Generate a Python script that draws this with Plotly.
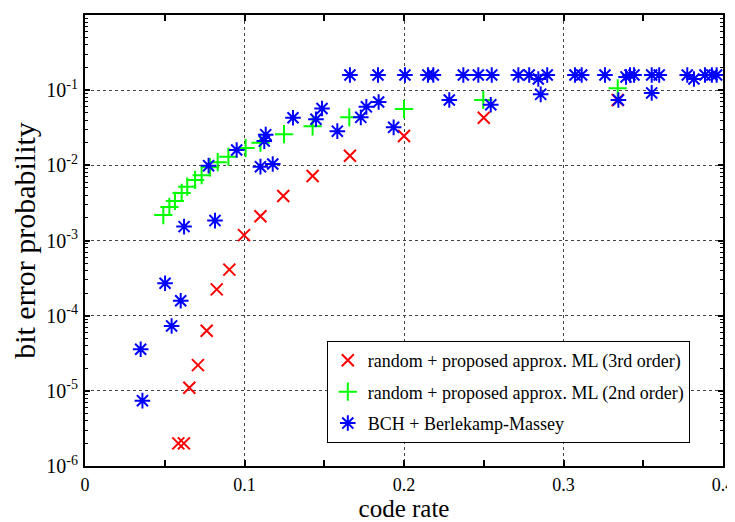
import plotly.graph_objects as go

# --- data ---
ml3_rate = [0.0585, 0.0620, 0.0654, 0.0708, 0.0763, 0.0826, 0.0905, 0.0997, 0.1100,
            0.1243, 0.1427, 0.1661, 0.2000, 0.2500, 0.3340]
ml3_ber = [2.0e-6, 2.0e-6, 1.1e-5, 2.2e-5, 6.3e-5, 2.24e-4, 4.1e-4, 1.18e-3, 2.1e-3,
           3.9e-3, 7.2e-3, 1.34e-2, 2.46e-2, 4.3e-2, 7.4e-2]

ml2_rate = [0.0491, 0.0529, 0.0564, 0.0606, 0.0641, 0.0690, 0.0731, 0.0784, 0.0832,
            0.0899, 0.1007, 0.1100, 0.1248, 0.1427, 0.1657, 0.2000, 0.2497, 0.3340]
ml2_ber = [2.18e-3, 2.8e-3, 3.36e-3, 4.3e-3, 5.2e-3, 6.4e-3, 7.4e-3, 9.4e-3, 1.1e-2,
           1.3e-2, 1.7e-2, 2.0e-2, 2.6e-2, 3.3e-2, 4.35e-2, 5.6e-2, 7.4e-2, 0.106]

bch_rate = [0.0349, 0.0360, 0.0502, 0.0543, 0.0600, 0.0621, 0.0775, 0.0815, 0.0951,
            0.1100, 0.1124, 0.1133, 0.1177, 0.1304, 0.1448, 0.1486, 0.1582, 0.1661,
            0.1729, 0.1764, 0.1841, 0.1837, 0.1935, 0.2006, 0.2150, 0.2184, 0.2284,
            0.2372, 0.2466, 0.2550, 0.2544, 0.2717, 0.2785, 0.2842, 0.2857, 0.2898,
            0.3072, 0.3114, 0.3260, 0.3344, 0.3392, 0.3417, 0.3442, 0.3553, 0.3553,
            0.3600, 0.3776, 0.3818, 0.3887, 0.3930, 0.3960]
bch_ber = [3.57e-5, 7.4e-6, 2.7e-4, 7.3e-5, 1.58e-4, 1.53e-3, 9.9e-3, 1.84e-3, 1.6e-2,
           9.6e-3, 2.1e-2, 2.56e-2, 1.04e-2, 4.3e-2, 4.1e-2, 5.7e-2, 2.85e-2, 0.159,
           4.35e-2, 6.0e-2, 6.95e-2, 0.159, 3.2e-2, 0.159, 0.159, 0.159, 7.4e-2,
           0.159, 0.159, 0.159, 6.4e-2, 0.159, 0.159, 0.141, 8.8e-2, 0.159,
           0.159, 0.159, 0.159, 7.4e-2, 0.150, 0.159, 0.159, 0.159, 9.2e-2,
           0.159, 0.159, 0.141, 0.159, 0.159, 0.159]

names = ["random + proposed approx. ML (3rd order)",
         "random + proposed approx. ML (2nd order)",
         "BCH + Berlekamp-Massey"]

x_tickvals = [0, 0.1, 0.2, 0.3, 0.4]
x_ticktext = ["0", "0.1", "0.2", "0.3", "0.4"]
y_tickvals = [1e-6, 1e-5, 1e-4, 1e-3, 1e-2, 1e-1, 1]
y_ticktext = ["10<sup>-6</sup>", "10<sup>-5</sup>", "10<sup>-4</sup>", "10<sup>-3</sup>",
              "10<sup>-2</sup>", "10<sup>-1</sup>", "1" + "\u00a0" * 7]

SERIF = "Liberation Serif, Times New Roman, serif"

fig = go.Figure()
fig.add_trace(go.Scatter(x=ml3_rate, y=ml3_ber, mode="markers", name=names[0],
                         legendgroup="a",
                         marker=dict(symbol="x-thin-open", size=12, color="#FF0000",
                                     line=dict(width=2, color="#FF0000"))))
fig.add_trace(go.Scatter(x=ml2_rate, y=ml2_ber, mode="markers", name=names[1],
                         legendgroup="b",
                         marker=dict(symbol="cross-thin-open", size=13, color="#00FF00",
                                     line=dict(width=2, color="#00FF00"))))
fig.add_trace(go.Scatter(x=bch_rate, y=bch_ber, mode="markers", name=names[2],
                         legendgroup="c",
                         marker=dict(symbol="asterisk-open", size=13, color="#0000FF",
                                     line=dict(width=2, color="#0000FF"))))

minor_y = []
for e in range(-6, 0):
    for m in range(2, 10):
        minor_y.append(m * 10 ** e)

fig.update_xaxes(range=[0, 0.4], tickmode="array", tickvals=x_tickvals, ticktext=x_ticktext,
                 automargin=False, ticklabeloverflow="allow",
                 showline=True, linecolor="black", linewidth=2, mirror="ticks",
                 ticks="inside", ticklen=6, tickwidth=2, tickcolor="black",
                 showgrid=True, gridcolor="#444", griddash="3px,3px", gridwidth=1,
                 zeroline=False,
                 minor=dict(tickvals=[0.05, 0.15, 0.25, 0.35], ticks="inside", ticklen=6,
                            tickwidth=2, tickcolor="black", showgrid=False),
                 tickfont=dict(family=SERIF, size=18, color="black"),
                 title=dict(text="code rate", font=dict(family=SERIF, size=25, color="black"),
                            standoff=9),
                 ticklabelstandoff=1)
fig.update_yaxes(type="log", range=[-6, 0], tickmode="array", tickvals=y_tickvals,
                 ticktext=y_ticktext, automargin=False,
                 showline=True, linecolor="black", linewidth=2, mirror="ticks",
                 ticks="inside", ticklen=5, tickwidth=2, tickcolor="black",
                 showgrid=True, gridcolor="#444", griddash="3px,3px", gridwidth=1,
                 zeroline=False,
                 minor=dict(tickvals=minor_y, ticks="inside", ticklen=3, tickwidth=1,
                            tickcolor="black", showgrid=False),
                 tickfont=dict(family=SERIF, size=20, color="black"),
                 title=dict(text="bit error probability",
                            font=dict(family=SERIF, size=30, color="black"), standoff=3),
                 ticklabelstandoff=1)

# page body has an 8px margin: shrink the figure and margins so the plot area
# lands on the same pixels as the reference
fig.update_layout(
    width=727, height=514,
    margin=dict(l=77, r=12, t=7, b=56),
    paper_bgcolor="white", plot_bgcolor="white",
    showlegend=True,
    legend=dict(x=0.379, y=0.277, xanchor="left", yanchor="top",
                bgcolor="white", bordercolor="black", borderwidth=1,
                font=dict(family=SERIF, size=18, color="black"),
                tracegroupgap=5, traceorder="grouped"),
)

fig.write_html("out.html")
